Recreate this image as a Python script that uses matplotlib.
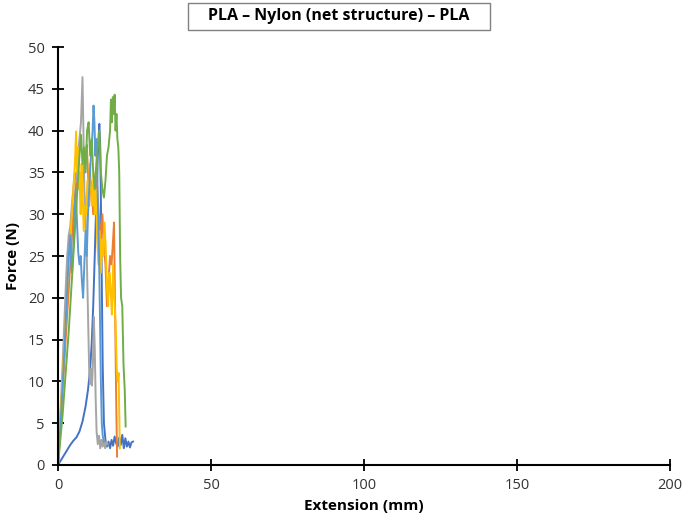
import numpy as np
import matplotlib
matplotlib.use('Agg')
import matplotlib.pyplot as plt
from matplotlib.patches import Rectangle

plt.rcParams['font.family'] = ['Open Sans', 'DejaVu Sans']

# 数据（从图上读取，单位 mm / N）
blue_x = [0, 1, 2, 3, 4, 5, 6, 7, 8, 9, 9.8, 10.5, 11, 11.5, 12, 12.3, 12.7, 13, 13.3, 13.5, 13.8, 14, 14.3,
          14.6, 15, 15.5, 16, 16.5, 17, 17.5, 18, 18.5, 19, 19.5, 20, 20.5, 21, 21.5, 22, 22.5, 23, 23.5, 24, 24.5]
blue_y = [0, 0.6, 1.2, 1.8, 2.4, 2.9, 3.3, 4.0, 5.2, 7.0, 9.0, 11.5, 14.5, 19, 25, 29, 33, 37, 39.5, 40.8, 38,
          32, 22, 12, 5, 3, 2.2, 2.8, 2.0, 3.0, 2.3, 3.4, 2.6, 2.2, 3.3, 2.4, 3.6, 2.0, 3.2, 2.2, 2.8, 2.1, 2.7, 2.8]

orange_x = [0, 0.5, 1, 1.5, 2, 2.5, 3, 3.5, 4, 4.5, 5, 5.5, 6, 6.5, 7, 7.5, 8, 8.5, 9, 9.4, 9.8, 10.2, 10.6,
            11, 11.5, 12, 12.5, 13, 13.5, 14, 14.5, 15, 15.5, 16, 16.5, 17, 17.5, 18, 18.3, 18.6, 19, 19.3]
orange_y = [0, 3, 6, 9, 12, 15, 18, 21, 24, 27, 30, 32, 34, 33, 35, 31, 34, 36, 37, 38.3, 35, 31, 34,
            33, 30, 32, 35, 32, 29, 27, 30, 26, 24, 19, 22, 25, 24, 27, 29, 20, 8, 1.0]

gray_x = [0, 0.5, 1, 1.5, 2, 2.5, 3, 3.5, 4, 4.5, 5, 5.5, 6, 6.5, 7, 7.5, 8, 8.3, 8.6, 9, 9.4, 9.8, 10.2,
          10.5, 10.8, 11.1, 11.4, 11.7, 12, 12.3, 12.6, 13, 13.4, 13.8, 14.2, 14.6, 15, 15.4, 15.8, 16.2]
gray_y = [0, 4, 8, 12, 16.5, 21, 25, 27.5, 28.5, 31, 33, 35, 34, 37, 39, 41, 46.4, 40, 33, 30, 25, 18, 11,
          9.7, 11.5, 9.5, 12, 17.7, 14, 8, 4, 2.5, 3.5, 2, 3, 2.2, 3.2, 2.0, 2.8, 2.5]

yellow_x = [0, 0.5, 1, 1.5, 2, 2.5, 3, 3.5, 4, 4.5, 5, 5.5, 5.9, 6.2, 6.5, 6.8, 7.1, 7.4, 7.7, 8, 8.4, 8.8,
            9.2, 9.6, 10, 10.4, 10.8, 11.2, 11.6, 12, 12.4, 12.8, 13.2, 13.6, 14, 14.4, 14.8, 15.2, 15.6,
            16, 16.4, 16.8, 17.2, 17.6, 18, 18.4, 18.8, 19.2, 19.5, 19.8, 20.2]
yellow_y = [0, 3.5, 7, 10.5, 14, 17.5, 21, 24, 27, 30, 33, 36, 39.9, 35, 38, 33, 35, 30, 36, 33, 28, 31,
            30, 34, 31, 36, 33, 31, 35, 30, 33, 27, 24, 28, 23, 27, 25, 29, 26,
            21, 19, 23, 21, 18, 24, 20, 17, 11.5, 10, 11, 2]

lblue_x = [0, 0.5, 1, 1.5, 2, 2.5, 3, 3.5, 4, 4.3, 4.6, 5, 5.4, 5.8, 6.2, 6.6, 7, 7.4, 7.8, 8.2, 8.6, 9,
           9.4, 9.8, 10.2, 10.6, 11, 11.3, 11.6, 11.9, 12.2, 12.5, 12.8, 13.1, 13.4, 13.7, 14, 14.3, 14.6, 15]
lblue_y = [0, 3, 6, 9.5, 13, 17, 21, 25, 27.5, 24, 23, 26, 30, 33, 29, 25.5, 24, 25, 22, 20, 24, 28,
           25, 30, 33, 36, 38, 40, 43, 41, 37, 39, 35, 30, 25, 18, 10, 5, 3.5, 2.8]

green_x = [0, 0.5, 1, 1.5, 2, 2.5, 3, 3.5, 4, 4.5, 5, 5.5, 6, 6.5, 7, 7.5, 8, 8.5, 9, 9.5, 10, 10.5, 11,
           11.5, 12, 12.5, 13, 13.5, 14, 14.5, 15, 15.5, 16, 16.5, 17, 17.3, 17.6, 17.9, 18.2, 18.5, 18.8,
           19.1, 19.4, 19.7, 20, 20.3, 20.6, 21, 21.4, 21.8, 22.1]
green_y = [0, 2, 4, 6, 8.5, 11, 13.5, 16, 19, 22, 25, 28, 31, 34, 37, 39.5, 36, 38, 35, 40, 41, 37, 39,
           35, 33, 36, 38, 40, 35, 33, 32, 34, 37, 38, 40, 43.7, 41, 44, 42, 44.3, 40,
           42, 39, 38, 35, 25, 20, 19, 12, 9, 4.6]

series = [(blue_x, blue_y, '#4472C4'),
          (orange_x, orange_y, '#ED7D31'),
          (gray_x, gray_y, '#A5A5A5'),
          (yellow_x, yellow_y, '#FFC000'),
          (lblue_x, lblue_y, '#5B9BD5'),
          (green_x, green_y, '#70AD47')]

fig = plt.figure(figsize=(6.85, 5.26), dpi=100)
ax = fig.add_axes([0.0847, 0.116, 0.8935, 0.7946])

for x, y, c in series:
    ax.plot(x, y, color=c, lw=1.4)

ax.set_xlim(0, 200)
ax.set_ylim(0, 50)
ax.set_xticks(np.arange(0, 201, 50))
ax.set_yticks(np.arange(0, 51, 5))

# 坐标轴样式
for s in ['top', 'right']:
    ax.spines[s].set_visible(False)
for s in ['left', 'bottom']:
    ax.spines[s].set_linewidth(1.5)
    ax.spines[s].set_color('black')
ax.tick_params(direction='inout', length=9, width=1.3, labelsize=10.5, labelcolor='#333333', pad=5)

ax.set_xlabel('Extension (mm)', fontsize=11, fontweight='bold', labelpad=4)
ax.set_ylabel('Force (N)', fontsize=11, fontweight='bold', labelpad=6)

# 标题框
W, H = 685, 526
fig.patches.append(Rectangle((188 / W, 1 - 30 / H), 302 / W, 27 / H, transform=fig.transFigure,
                             facecolor='white', edgecolor='#808080', lw=1))
fig.text(0.495, 1 - 16.5 / H, 'PLA – Nylon (net structure) – PLA', ha='center', va='center',
         fontsize=11.5, fontweight='bold')

plt.savefig('out.png', dpi=100)
